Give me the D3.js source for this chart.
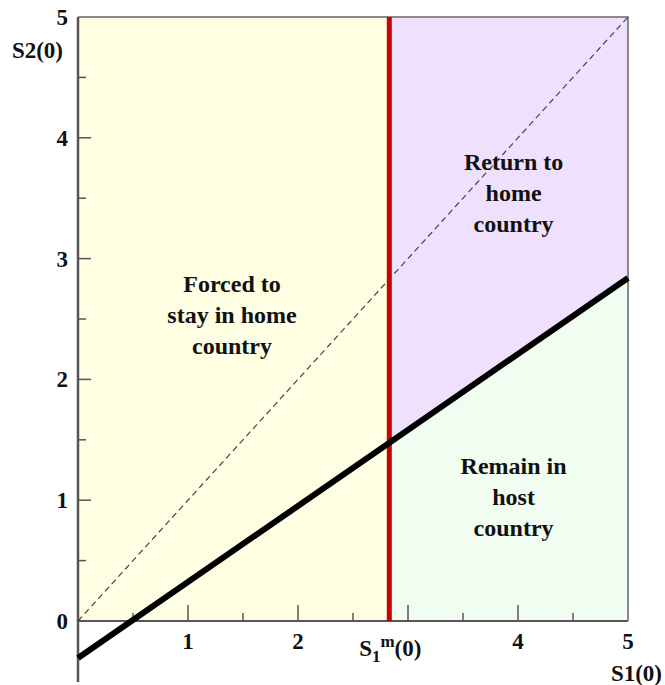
<!DOCTYPE html>
<html>
<head>
<meta charset="utf-8">
<script src="https://cdn.jsdelivr.net/npm/d3@7"></script>
<style>
  body { margin: 0; background: #fff; }
  text { font-family: "Liberation Serif", "Times New Roman", serif; font-weight: bold; fill: #111; }
</style>
</head>
<body>
<script>
  // axis ticks
  const xTickLabels = [1, 2, 4, 5];
  const yTickLabels = [0, 1, 2, 3, 4, 5];
  const minorTicks = [0.5, 1.5, 2.5, 3.5, 4.5];

  // threshold and boundary line S2 = slope * S1 + intercept
  const s1m = 2.83;
  const boundary = [{ x: 0, y: -0.306 }, { x: 5, y: 2.84 }];
  const diagonal = [{ x: 0, y: 0 }, { x: 5, y: 5 }];

  const regionLabels = [
    { lines: ["Forced to", "stay in home", "country"], x: 1.40, y: 2.72, color: "#fefee3" },
    { lines: ["Return to", "home", "country"], x: 3.96, y: 3.73, color: "#efe1fd" },
    { lines: ["Remain in", "host", "country"], x: 3.96, y: 1.22, color: "#f1fdf1" }
  ];

  const margin = { top: 17, right: 37, bottom: 64, left: 78 };
  const width = 665;
  const height = 685;

  const x = d3.scaleLinear().domain([0, 5]).range([margin.left, width - margin.right]);
  const y = d3.scaleLinear().domain([0, 5]).range([height - margin.bottom, margin.top]);

  const svg = d3.select("body").append("svg")
    .attr("width", width)
    .attr("height", height);

  const lineAt = (v) => boundary[0].y + (boundary[1].y - boundary[0].y) * (v - boundary[0].x) / (boundary[1].x - boundary[0].x);
  const cross = lineAt(s1m);

  const regions = [
    [[0, 0], [0, 5], [s1m, 5], [s1m, 0]],
    [[s1m, cross], [s1m, 5], [5, 5], [5, lineAt(5)]],
    [[s1m, 0], [s1m, cross], [5, lineAt(5)], [5, 0]]
  ];

  svg.selectAll("polygon.region")
    .data(regions)
    .join("polygon")
    .attr("class", "region")
    .attr("points", (d) => d.map((p) => [x(p[0]), y(p[1])].join(",")).join(" "))
    .attr("fill", (d, i) => regionLabels[i].color);

  // frame: top and right
  svg.append("path")
    .attr("d", `M${x(0)},${y(5)}H${x(5)}V${y(0)}`)
    .attr("fill", "none")
    .attr("stroke", "#666")
    .attr("stroke-width", 1.5);

  // bottom axis
  svg.append("line")
    .attr("x1", x(0)).attr("x2", x(5))
    .attr("y1", y(0)).attr("y2", y(0))
    .attr("stroke", "#555").attr("stroke-width", 2);

  // left axis, running below the zero line
  svg.append("line")
    .attr("x1", x(0)).attr("x2", x(0))
    .attr("y1", y(5)).attr("y2", 682)
    .attr("stroke", "#555").attr("stroke-width", 2.5);

  // ticks
  const xMajor = [1, 2, 3, 4];
  svg.selectAll("line.xt")
    .data(xMajor.map((v) => ({ v, len: 16 })).concat(minorTicks.map((v) => ({ v, len: 8 }))))
    .join("line")
    .attr("class", "xt")
    .attr("x1", (d) => x(d.v)).attr("x2", (d) => x(d.v))
    .attr("y1", y(0)).attr("y2", (d) => y(0) - d.len)
    .attr("stroke", "#555").attr("stroke-width", 1.5);

  const yMajor = [1, 2, 3, 4];
  svg.selectAll("line.yt")
    .data(yMajor.map((v) => ({ v, len: 13 })).concat(minorTicks.map((v) => ({ v, len: 8 }))))
    .join("line")
    .attr("class", "yt")
    .attr("y1", (d) => y(d.v)).attr("y2", (d) => y(d.v))
    .attr("x1", x(0)).attr("x2", (d) => x(0) + d.len)
    .attr("stroke", "#555").attr("stroke-width", 1.5);

  // dashed diagonal
  svg.append("line")
    .attr("x1", x(diagonal[0].x)).attr("y1", y(diagonal[0].y))
    .attr("x2", x(diagonal[1].x)).attr("y2", y(diagonal[1].y))
    .attr("stroke", "#444")
    .attr("stroke-width", 1.2)
    .attr("stroke-dasharray", "6,4");

  // threshold line
  svg.append("line")
    .attr("x1", x(s1m)).attr("x2", x(s1m))
    .attr("y1", y(5)).attr("y2", y(0))
    .attr("stroke", "#cc0000")
    .attr("stroke-width", 5);

  // boundary line
  svg.append("line")
    .attr("x1", x(boundary[0].x)).attr("y1", y(boundary[0].y))
    .attr("x2", x(boundary[1].x)).attr("y2", y(boundary[1].y))
    .attr("stroke", "#000")
    .attr("stroke-width", 6);

  // tick labels
  svg.selectAll("text.xl")
    .data(xTickLabels)
    .join("text")
    .attr("class", "xl")
    .attr("x", (d) => x(d))
    .attr("y", y(0) + 28)
    .attr("text-anchor", "middle")
    .attr("font-size", 23)
    .text((d) => d);

  svg.selectAll("text.yl")
    .data(yTickLabels)
    .join("text")
    .attr("class", "yl")
    .attr("x", x(0) - 10)
    .attr("y", (d) => y(d) + 8)
    .attr("text-anchor", "end")
    .attr("font-size", 23)
    .text((d) => d);

  // axis titles
  svg.append("text")
    .attr("x", 63).attr("y", 58)
    .attr("text-anchor", "end")
    .attr("font-size", 23)
    .text("S2(0)");

  svg.append("text")
    .attr("x", 662).attr("y", 681)
    .attr("text-anchor", "end")
    .attr("font-size", 23)
    .text("S1(0)");

  const sm = svg.append("text")
    .attr("x", x(s1m) + 1).attr("y", 656)
    .attr("text-anchor", "middle")
    .attr("font-size", 23);
  sm.append("tspan").text("S");
  sm.append("tspan").attr("dy", 6).attr("font-size", 17).text("1");
  sm.append("tspan").attr("dy", -15).attr("font-size", 17).text("m");
  sm.append("tspan").attr("dy", 9).text("(0)");

  // region labels
  regionLabels.forEach((r) => {
    const t = svg.append("text")
      .attr("text-anchor", "middle")
      .attr("font-size", 24)
      .attr("x", x(r.x))
      .attr("y", y(r.y));
    r.lines.forEach((ln, i) => {
      t.append("tspan")
        .attr("x", x(r.x))
        .attr("dy", i === 0 ? 0 : 31)
        .text(ln);
    });
  });
</script>
</body>
</html>
